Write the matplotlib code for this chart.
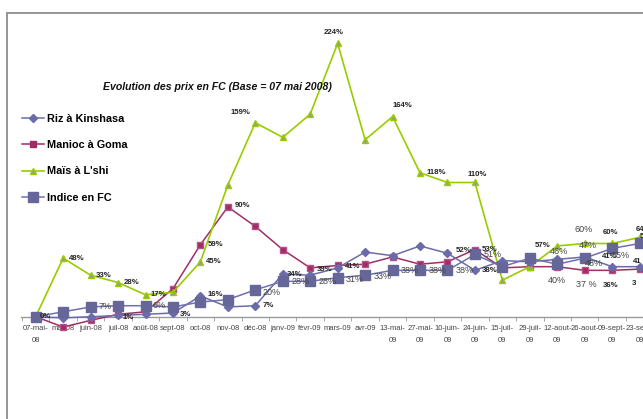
import numpy as np
import matplotlib.pyplot as plt
from matplotlib.lines import Line2D
from matplotlib.patches import Rectangle

plt.rcParams['font.family'] = ['Liberation Sans', 'DejaVu Sans']

# dates (x categories)
dates = ['07-mai-\n08', 'mai-08', 'juin-08', 'juil-08', 'août-08', 'sept-08', 'oct-08',
         'nov-08', 'déc-08', 'janv-09', 'févr-09', 'mars-09', 'avr-09', '13-mai-\n09',
         '27-mai-\n09', '10-juin-\n09', '24-juin-\n09', '15-juil-\n09', '29-juil-\n09',
         '12-aout-\n09', '26-aout-\n09', '09-sept-\n09', '23-sept-\n09']

riz = [0, -1, 0, 1, 2, 3, 17, 8, 9, 35, 34, 40, 53, 50, 58, 52, 38, 46, 45, 47, 49, 41, 41]
manioc = [0, -8.5, -3, 2, 4, 23, 59, 90, 74, 55, 40, 42, 43, 49, 43, 45, 55, 40, 41, 41, 38, 38, 39]
mais = [0, 48, 34, 28, 18, 20, 45, 108, 159, 147, 166, 224, 145, 164, 118, 110, 110, 30, 41, 58, 60, 60, 65]
indice = [0, 4, 8, 9, 9, 8, 12, 14, 22, 29, 29, 32, 34, 38, 38, 38, 51, 41, 48, 43, 48, 56, 60]

# data labels: (series, index, text, dx, dy, style)
labels = [
    ('mais', 1, '48%', 4, 0, 'b'), ('mais', 2, '33%', 4, 0, 'b'), ('mais', 3, '28%', 4, 0, 'b'),
    ('mais', 4, '17%', 4, 0, 'b'), ('mais', 6, '45%', 4, 0, 'b'), ('mais', 8, '159%', -18, 7, 'b'),
    ('mais', 11, '224%', -10, 8, 'b'), ('mais', 13, '164%', 0, 8, 'b'), ('mais', 14, '118%', 5, 0, 'b'),
    ('mais', 16, '110%', -5, 6, 'b'), ('mais', 19, '57%', -16, 0, 'b'), ('mais', 20, '60%', -7, 10, 'n'),
    ('mais', 21, '60%', -7, 8, 'b'), ('mais', 22, '64%', -3, 6, 'b'),
    ('manioc', 0, '0%', 3, 0, 'b'), ('manioc', 3, '1%', 3, -2, 'b'), ('manioc', 6, '59%', 5, 0, 'b'),
    ('manioc', 7, '90%', 5, 1, 'b'), ('manioc', 10, '39%', 5, -1, 'b'), ('manioc', 11, '41%', 5, -1, 'b'),
    ('manioc', 16, '53%', 5, 0, 'b'), ('manioc', 19, '40%', -7, -10, 'n'), ('manioc', 20, '37 %', -6, -10, 'n'),
    ('manioc', 21, '36%', -7, -11, 'b'), ('manioc', 22, '3', -6, -10, 'b'),
    ('riz', 5, '3%', 5, -1, 'b'), ('riz', 6, '16%', 5, 1, 'b'), ('riz', 8, '7%', 5, 0, 'b'),
    ('riz', 9, '34%', 3, 0, 'b'), ('riz', 15, '52%', 6, 2, 'b'), ('riz', 16, '38%', 5, 0, 'b'),
    ('riz', 19, '46%', -5, 6, 'n'), ('riz', 20, '47%', -4, 8, 'n'), ('riz', 21, '41%', -7, 7, 'b'),
    ('riz', 22, '41', -5, 4, 'b'),
    ('indice', 2, '7%', 6, 0, 'n'), ('indice', 4, '6%', 5, 0, 'n'), ('indice', 8, '20%', 5, -2, 'n'),
    ('indice', 9, '28%', 6, 0, 'n'), ('indice', 10, '28%', 6, 0, 'n'), ('indice', 11, '31%', 6, -1, 'n'),
    ('indice', 12, '33%', 6, -1, 'n'), ('indice', 13, '38%', 6, 0, 'n'), ('indice', 14, '38%', 6, 0, 'n'),
    ('indice', 15, '38%', 6, 0, 'n'), ('indice', 16, '51%', 6, 0, 'n'), ('indice', 20, '48%', 0, -4, 'n'),
    ('indice', 21, '55%', 0, -5, 'n'), ('indice', 22, '5', 0, 5, 'b'),
]

series = {'riz': riz, 'manioc': manioc, 'mais': mais, 'indice': indice}

fig = plt.figure(figsize=(6.43, 4.19), dpi=100)
ax = fig.add_axes([0, 0, 1, 1])
ax.set_facecolor('none')

x = np.arange(len(dates))

# outer chart border
fig.patches.append(Rectangle((7 / 643, -0.1), 1.2, (419 - 13) / 419 + 0.1, transform=fig.transFigure,
                             fill=False, edgecolor='#8c8c8c', linewidth=1.3))

ax.plot(x, riz, color='#6b6bab', lw=1.1, marker='D', ms=4, mfc='#6b6bab', mec='#6b6bab', zorder=4,
        label='Riz à Kinshasa')
ax.plot(x, manioc, color='#9e2f64', lw=1.1, marker='s', ms=4, mfc='#9e2f64', mec='#b85088', zorder=3,
        label='Manioc à Goma')
ax.plot(x, mais, color='#99cc00', lw=1.2, marker='^', ms=5, mfc='#999999', mec='#99cc00', zorder=3,
        label="Maïs à L'shi")
ax.plot(x, indice, color='#7070b0', lw=1.1, marker='s', ms=6.5, mfc='#666699', mec='#666699', zorder=5,
        label='Indice en FC')

for name, i, txt, dx, dy, st in labels:
    if st == 'b':
        ax.annotate(txt, (x[i], series[name][i]), xytext=(dx, dy), textcoords='offset points',
                    fontsize=5.6, fontweight='bold', color='#222222', va='center', ha='left', zorder=6)
    else:
        ax.annotate(txt, (x[i], series[name][i]), xytext=(dx, dy), textcoords='offset points',
                    fontsize=6.5, color='#444444', va='center', ha='left', zorder=6)

# pixel mapping: x index 0 at 35.7px, 27.45px per step; zero at y=316.7px, 1.22px per %
ax.set_xlim(-35.7 / 27.45, (643 - 35.7) / 27.45)
ax.set_ylim(-(419 - 316.7) / 1.22, 316.7 / 1.22)

for s in ['top', 'left', 'right']:
    ax.spines[s].set_visible(False)
ax.spines['bottom'].set_position(('data', 0))
ax.spines['bottom'].set_color('#9a9a9a')
ax.spines['bottom'].set_linewidth(1.0)
ax.spines['bottom'].set_bounds(-0.55, 30)
ax.set_yticks([])
ax.set_xticks(x)
ax.set_xticklabels(dates, fontsize=5.5, color='#444444', linespacing=1.9, va='top')
ax.set_xticks(list(x[:-1] + 0.5) + [-0.5], minor=True)
ax.tick_params(axis='x', which='major', length=0, pad=6)
ax.tick_params(axis='x', which='minor', length=3, color='#9a9a9a', direction='out')

fig.text(103 / 643, 1 - 87 / 419, 'Evolution des prix en FC (Base = 07 mai 2008)', fontsize=7.6,
         style='italic', fontweight='bold', color='#111111', va='center', ha='left')

handles = [Line2D([], [], color='#6b6bab', lw=1.1, marker='D', ms=4),
           Line2D([], [], color='#9e2f64', lw=1.1, marker='s', ms=4.5),
           Line2D([], [], color='#99cc00', lw=1.2, marker='^', ms=5, mfc='#999999', mec='#99cc00'),
           Line2D([], [], color='#7070b0', lw=1.1, marker='s', ms=6.5, mfc='#666699', mec='#666699')]
fig.legend(handles, ['Riz à Kinshasa', 'Manioc à Goma', "Maïs à L'shi", 'Indice en FC'],
           loc='upper left', bbox_to_anchor=(22 / 643, 1 - 114 / 419), frameon=False,
           prop={'size': 7.8, 'weight': 'bold'}, handlelength=2.0, handletextpad=0.3,
           labelspacing=1.5, borderaxespad=0, borderpad=0)

fig.savefig('out.png', dpi=100)
